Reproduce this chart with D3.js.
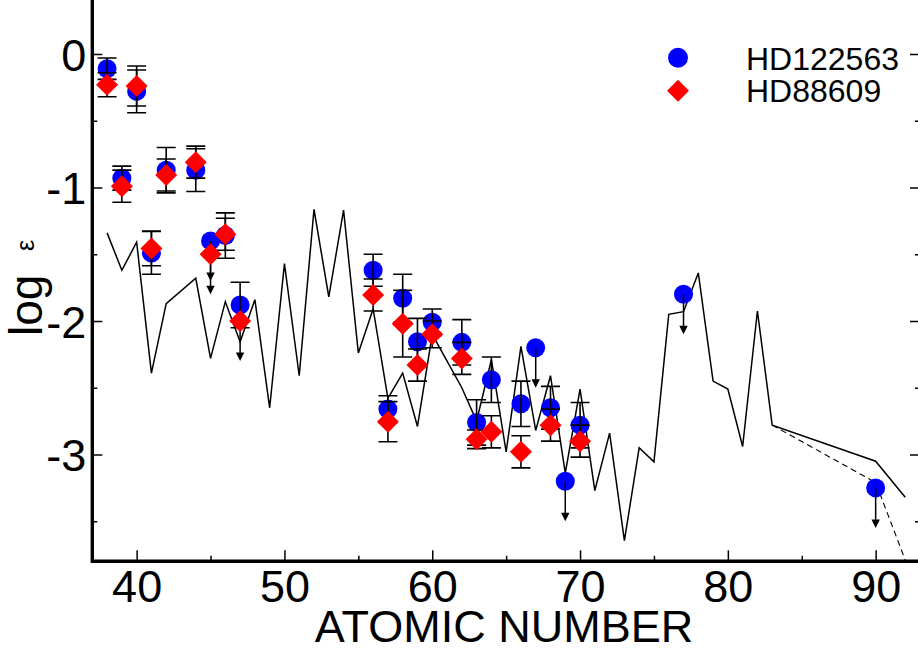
<!DOCTYPE html>
<html>
<head>
<meta charset="utf-8">
<script src="https://cdn.jsdelivr.net/npm/d3@7"></script>
<style>
  body { margin: 0; background: #fff; }
  svg { display: block; font-family: 'Liberation Sans', Arial, sans-serif; }
</style>
</head>
<body>
<svg id="abund_svg" width="918" height="651"></svg>
<script>
// HD122563 (blue circles)
const hd122563_z = [38, 39, 40, 41, 42, 44, 45, 46, 47, 56, 57, 58, 59, 60, 62, 63, 64, 66, 67, 68, 69, 70, 77, 90];
const hd122563_val = [-0.11, -0.93, -0.28, -1.49, -0.87, -0.87, -1.40, -1.36, -1.88, -1.62, -2.66, -1.83, -2.155, -2.01, -2.16, -2.76, -2.44, -2.62, -2.20, -2.65, -3.20, -2.78, -1.80, -3.25];
const hd122563_err = [0.08, 0.09, 0.16, 0.16, 0.17, 0.16, 0, 0.17, 0.17, 0.12, 0.10, 0.18, 0.175, 0.10, 0.17, 0.17, 0.17, 0.17, 0, 0.16, 0, 0.17, 0, 0];
const hd122563_upper = [0, 0, 0, 0, 0, 0, 1, 0, 0, 0, 0, 0, 0, 0, 0, 0, 0, 0, 1, 0, 1, 0, 1, 1];

// HD88609 (red diamonds)
const hd88609_z = [38, 39, 40, 41, 42, 44, 45, 46, 47, 56, 57, 58, 59, 60, 62, 63, 64, 66, 68, 70];
const hd88609_val = [-0.23, -0.99, -0.24, -1.456, -0.906, -0.81, -1.50, -1.35, -2.00, -1.805, -2.754, -2.02, -2.33, -2.10, -2.28, -2.886, -2.83, -2.98, -2.78, -2.90];
const hd88609_err = [0.09, 0.12, 0.15, 0.13, 0.12, 0.12, 0, 0.12, 0, 0.12, 0.15, 0.25, 0.12, 0.10, 0.12, 0.07, 0.12, 0.12, 0.12, 0.12];
const hd88609_upper = [0, 0, 0, 0, 0, 0, 1, 0, 1, 0, 0, 0, 0, 0, 0, 0, 0, 0, 0, 0];

// scaled solar r-process pattern (solid) and decayed Th/U (dashed)
const solar_z = [38, 39, 40, 41, 42, 44, 45, 46, 47, 48, 49, 50, 51, 52, 53, 54, 55, 56, 57, 58, 59, 60, 62, 63, 64, 65, 66, 67, 68, 69, 70, 71, 72, 73, 74, 75, 76, 77, 78, 79, 80, 81, 82, 83, 90, 92];
const solar_val = [-1.34, -1.62, -1.41, -2.39, -1.87, -1.68, -2.28, -1.855, -2.155, -1.84, -2.65, -1.57, -2.41, -1.163, -1.82, -1.17, -2.24, -1.91, -2.58, -2.39, -2.79, -2.10, -2.50, -2.75, -2.29, -2.98, -2.19, -2.82, -2.41, -3.14, -2.51, -3.27, -2.84, -3.645, -2.95, -3.055, -1.95, -1.93, -1.64, -2.45, -2.51, -2.94, -1.925, -2.78, -3.05, -3.32];
const decay_z = [83, 90, 92];
const decay_val = [-2.78, -3.21, -3.79];

const x_major = [40, 50, 60, 70, 80, 90];
const x_minor = [45, 55, 65, 75, 85];
const y_major = [0, -1, -2, -3];
const y_minor = [-0.5, -1.5, -2.5, -3.5];

const legend_labels = ['HD122563', 'HD88609'];

const upper_len = 0.3; // length of upper-limit arrows in dex

/**
 * Scales
 */
const svg = d3.select('#abund_svg');
const xScale = d3.scaleLinear().domain([37, 93]).range([92.3, 920]);
const yScale = d3.scaleLinear().domain([0.4, -3.8]).range([0.6, 561.3]);

const x0 = xScale(37), y0 = yScale(-3.8);

/**
 * Solar curves
 */
const line = d3.line().x((d) => xScale(d[0])).y((d) => yScale(d[1]));

svg.append('path')
  .datum(decay_z.map((z, i) => [z, decay_val[i]]))
  .attr('d', line)
  .attr('fill', 'none')
  .attr('stroke', '#000')
  .attr('stroke-width', 1.1)
  .attr('stroke-dasharray', '6,4');

svg.append('path')
  .datum(solar_z.map((z, i) => [z, solar_val[i]]))
  .attr('d', line)
  .attr('fill', 'none')
  .attr('stroke', '#000')
  .attr('stroke-width', 1.5);

/**
 * Build star tables
 */
function make_rows(z, val, err, upper) {
  return z.map((d, i) => ({ z: d, v: val[i], e: err[i], up: upper[i] }));
}
const blue_rows = make_rows(hd122563_z, hd122563_val, hd122563_err, hd122563_upper);
const red_rows = make_rows(hd88609_z, hd88609_val, hd88609_err, hd88609_upper);

const cap_w = 9.5;

function draw_bars(g, rows) {
  const with_err = rows.filter((d) => d.e > 0);
  g.selectAll('.ebar')
    .data(with_err)
    .enter()
    .append('path')
    .attr('class', 'ebar')
    .attr('fill', 'none')
    .attr('stroke', '#000')
    .attr('stroke-width', 1.6)
    .attr('d', (d) => {
      const x = xScale(d.z), yt = yScale(d.v + d.e), yb = yScale(d.v - d.e);
      return `M${x - cap_w},${yt}H${x + cap_w}M${x},${yt}V${yb}M${x - cap_w},${yb}H${x + cap_w}`;
    });

  const ups = rows.filter((d) => d.up);
  g.selectAll('.ulim')
    .data(ups)
    .enter()
    .append('path')
    .attr('class', 'ulim')
    .attr('fill', 'none')
    .attr('stroke', '#000')
    .attr('stroke-width', 1.5)
    .attr('d', (d) => `M${xScale(d.z)},${yScale(d.v)}V${yScale(d.v - upper_len) - 6}`);

  g.selectAll('.uhead')
    .data(ups)
    .enter()
    .append('path')
    .attr('class', 'uhead')
    .attr('fill', '#000')
    .attr('d', (d) => {
      const x = xScale(d.z), yt = yScale(d.v - upper_len);
      return `M${x - 4.2},${yt - 8.5}L${x + 4.2},${yt - 8.5}L${x},${yt}Z`;
    });
}

const diamond = (h) => `M0,${-h}L${h},0L0,${h}L${-h},0Z`;

/**
 * Blue circles, then all error bars, then red diamonds
 */
svg.append('g')
  .selectAll('circle')
  .data(blue_rows)
  .enter()
  .append('circle')
  .attr('cx', (d) => xScale(d.z))
  .attr('cy', (d) => yScale(d.v))
  .attr('r', 9.5)
  .attr('fill', '#0000ff');

draw_bars(svg.append('g'), blue_rows);
draw_bars(svg.append('g'), red_rows);

svg.append('g')
  .selectAll('path')
  .data(red_rows)
  .enter()
  .append('path')
  .attr('transform', (d) => `translate(${xScale(d.z)},${yScale(d.v)})`)
  .attr('d', diamond(11))
  .attr('fill', '#ff0000');

/**
 * Axes (ticks point inward)
 */
const font_size = 45;

const g_x = svg.append('g').attr('transform', `translate(0,${y0})`);
g_x.call(d3.axisBottom(xScale).tickValues(x_major).tickSizeInner(-11).tickSizeOuter(0).tickPadding(9).tickFormat((d) => String(d)));
const g_x_minor = svg.append('g').attr('transform', `translate(0,${y0})`);
g_x_minor.call(d3.axisBottom(xScale).tickValues(x_minor).tickSizeInner(-5.5).tickSizeOuter(0).tickFormat(''));

const g_y = svg.append('g').attr('transform', `translate(${x0},0)`);
g_y.call(d3.axisLeft(yScale).tickValues(y_major).tickSizeInner(-10).tickSizeOuter(0).tickPadding(6).tickFormat((d) => String(d)));
const g_y_minor = svg.append('g').attr('transform', `translate(${x0},0)`);
g_y_minor.call(d3.axisLeft(yScale).tickValues(y_minor).tickSizeInner(-5).tickSizeOuter(0).tickFormat(''));

const g_r = svg.append('g').attr('transform', `translate(${xScale(93)},0)`);
g_r.call(d3.axisRight(yScale).tickValues(y_major).tickSizeInner(-10).tickSizeOuter(0).tickFormat(''));
const g_r_minor = svg.append('g').attr('transform', `translate(${xScale(93)},0)`);
g_r_minor.call(d3.axisRight(yScale).tickValues(y_minor).tickSizeInner(-5).tickSizeOuter(0).tickFormat(''));

svg.selectAll('.domain').remove();
svg.selectAll('.tick line').attr('stroke', '#000').attr('stroke-width', 1.5);
svg.selectAll('.tick text')
  .attr('fill', '#000')
  .attr('font-family', "'Liberation Sans', Arial, sans-serif")
  .attr('font-size', font_size);
g_y.selectAll('.tick text').attr('dy', '0.36em');

// frame lines
svg.append('path')
  .attr('d', `M${x0},0V${y0}H${xScale(93)}`)
  .attr('fill', 'none')
  .attr('stroke', '#000')
  .attr('stroke-width', 3.4);

/**
 * Axis titles
 */
svg.append('text')
  .attr('x', 504)
  .attr('y', 642)
  .attr('text-anchor', 'middle')
  .attr('font-size', font_size)
  .text('ATOMIC NUMBER');

svg.append('text')
  .attr('transform', 'translate(42,336) rotate(-90)')
  .attr('font-size', 46)
  .text('log');

svg.append('text')
  .attr('transform', 'translate(33.5,251) rotate(-90)')
  .attr('font-size', 25)
  .text('ε');

/**
 * Legend
 */
const legend = svg.append('g');
legend.append('circle').attr('cx', 678).attr('cy', 57.7).attr('r', 10).attr('fill', '#0000ff');
legend.append('path').attr('transform', 'translate(678,90.7)').attr('d', diamond(11)).attr('fill', '#ff0000');
legend.selectAll('text')
  .data(legend_labels)
  .enter()
  .append('text')
  .attr('x', 746)
  .attr('y', (d, i) => 69.5 + i * 32.5)
  .attr('font-size', 32)
  .text((d) => d);
</script>
</body>
</html>
